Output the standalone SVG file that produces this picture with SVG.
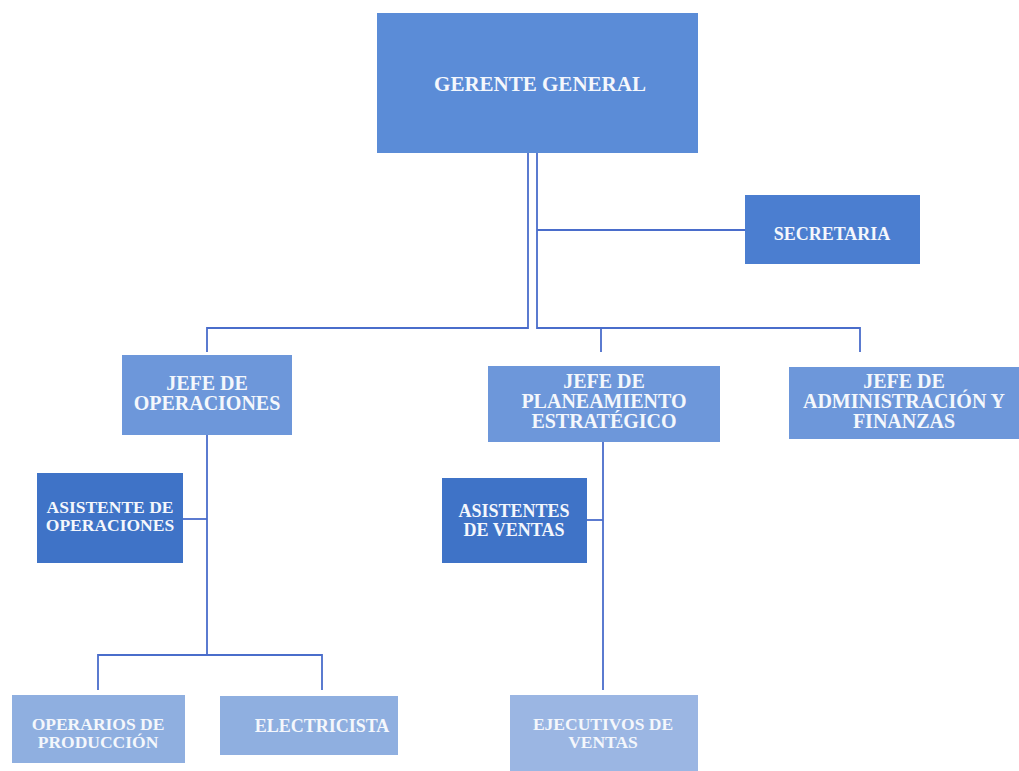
<svg xmlns="http://www.w3.org/2000/svg" width="1019" height="771" viewBox="0 0 1019 771">
  <style>
    .lbl { font-family: "Liberation Serif", "Times New Roman", serif; font-weight: bold; fill: #f4f7fc; text-anchor: middle; }
    .big { font-size: 21px; }
    .mid { font-size: 20px; }
    .sml { font-size: 18px; }
    .tight { font-size: 17.5px; }
    .conn { fill: none; stroke: #4a6dcb; stroke-width: 1.8; }
    .top { fill: #5b8cd7; }
    .sec { fill: #4b7ed0; }
    .jefe { fill: #6d97da; }
    .asis { fill: #3f73c7; }
    .base { fill: #8fafe0; }
    .exec { fill: #9bb6e3; }
  </style>
  <rect width="1019" height="771" fill="#ffffff"/>

  <g id="connectors">
    <!-- two stems below the general manager -->
    <polyline class="conn" points="528,153 528,328 207,328 207,352"/>
    <polyline class="conn" points="537,153 537,328 860,328 860,352"/>
    <line class="conn" x1="601" y1="328" x2="601" y2="352"/>
    <line class="conn" x1="537" y1="230" x2="745" y2="230"/>
    <!-- operations branch -->
    <line class="conn" x1="207" y1="435" x2="207" y2="655"/>
    <line class="conn" x1="183" y1="519" x2="207" y2="519"/>
    <polyline class="conn" points="98,690 98,655 322,655 322,690"/>
    <!-- planning branch -->
    <line class="conn" x1="603" y1="442" x2="603" y2="690"/>
    <line class="conn" x1="587" y1="520" x2="603" y2="520"/>
  </g>

  <g id="gerente-general">
    <rect class="top" x="377" y="13" width="321" height="140"/>
    <text class="lbl big" x="540" y="91">GERENTE GENERAL</text>
  </g>

  <g id="secretaria">
    <rect class="sec" x="745" y="195" width="175" height="69"/>
    <text class="lbl sml" x="832" y="240">SECRETARIA</text>
  </g>

  <g id="jefe-operaciones">
    <rect class="jefe" x="122" y="355" width="170" height="80"/>
    <text class="lbl mid" x="207" y="390">JEFE DE</text>
    <text class="lbl mid" x="207" y="410">OPERACIONES</text>
  </g>

  <g id="jefe-planeamiento">
    <rect class="jefe" x="488" y="366" width="232" height="76"/>
    <text class="lbl mid" x="604" y="388">JEFE DE</text>
    <text class="lbl mid" x="604" y="408">PLANEAMIENTO</text>
    <text class="lbl mid" x="604" y="428">ESTRATÉGICO</text>
  </g>

  <g id="jefe-administracion">
    <rect class="jefe" x="789" y="367" width="230" height="72"/>
    <text class="lbl mid" x="904" y="388">JEFE DE</text>
    <text class="lbl mid" x="904" y="408">ADMINISTRACIÓN Y</text>
    <text class="lbl mid" x="904" y="428">FINANZAS</text>
  </g>

  <g id="asistente-operaciones">
    <rect class="asis" x="37" y="473" width="146" height="90"/>
    <text class="lbl tight" x="110" y="513">ASISTENTE DE</text>
    <text class="lbl tight" x="110" y="531">OPERACIONES</text>
  </g>

  <g id="asistentes-ventas">
    <rect class="asis" x="442" y="478" width="145" height="85"/>
    <text class="lbl sml" x="514" y="517">ASISTENTES</text>
    <text class="lbl sml" x="514" y="536">DE VENTAS</text>
  </g>

  <g id="operarios-produccion">
    <rect class="base" x="12" y="695" width="173" height="68"/>
    <text class="lbl tight" x="98" y="730">OPERARIOS DE</text>
    <text class="lbl tight" x="98" y="748">PRODUCCIÓN</text>
  </g>

  <g id="electricista">
    <rect class="base" x="220" y="696" width="178" height="59"/>
    <text class="lbl sml" x="322" y="732">ELECTRICISTA</text>
  </g>

  <g id="ejecutivos-ventas">
    <rect class="exec" x="510" y="695" width="188" height="76"/>
    <text class="lbl tight" x="603" y="730">EJECUTIVOS DE</text>
    <text class="lbl tight" x="603" y="748">VENTAS</text>
  </g>
</svg>
